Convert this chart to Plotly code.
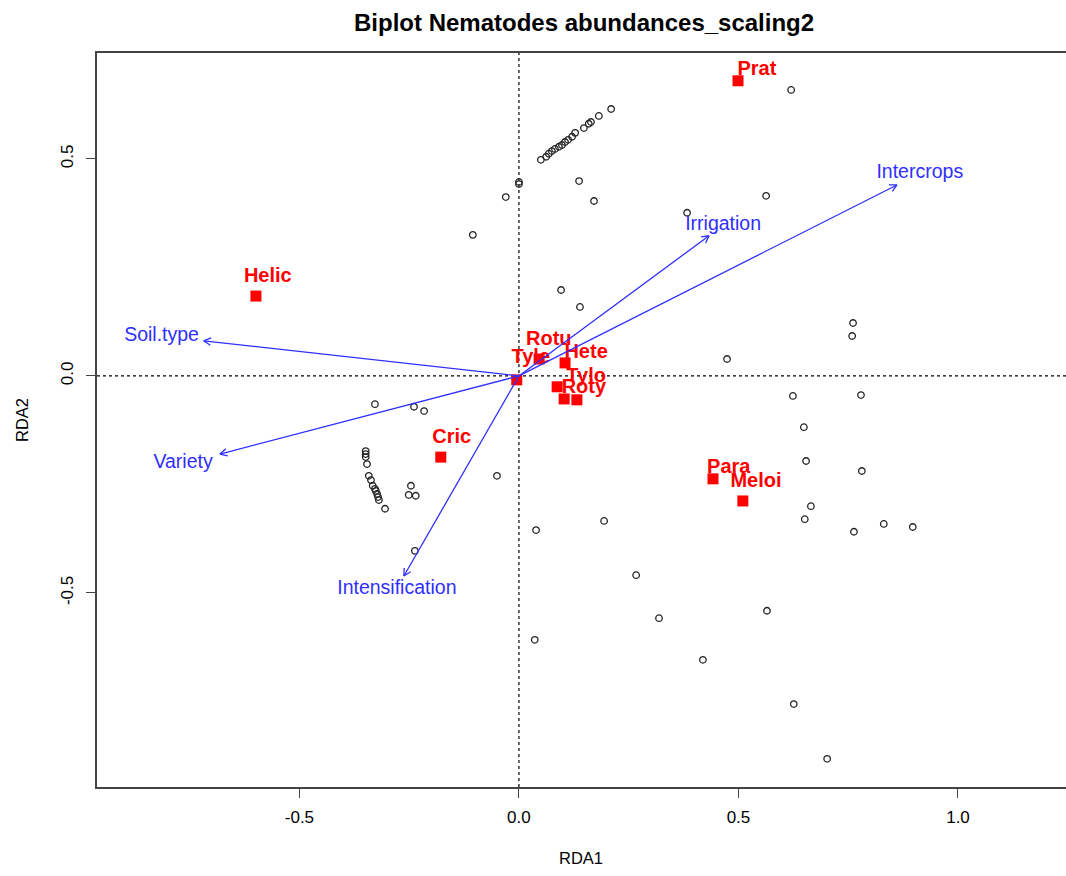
import numpy as np
import plotly.graph_objects as go

# ---------------- data ----------------
site_x = [0.210, 0.182, 0.164, 0.159, 0.148, 0.128, 0.121, 0.112, 0.105, 0.098,
          0.091, 0.082, 0.075, 0.068, 0.062, 0.050, 0.000, 0.000, -0.030, 0.137,
          0.171, -0.105, 0.383, 0.563, 0.620, 0.096, 0.139, 0.474, 0.761, 0.759,
          0.624, 0.779, 0.649, 0.654, 0.781, 0.665, 0.651, 0.763, 0.831, 0.897,
          0.194, -0.050, 0.039, 0.267, 0.319, 0.036, 0.419, 0.565, 0.626, 0.702,
          -0.328, -0.239, -0.216, -0.349, -0.349, -0.349, -0.346, -0.342, -0.337, -0.333,
          -0.328, -0.326, -0.323, -0.321, -0.319, -0.305, -0.246, -0.251, -0.235, -0.237]
site_y = [0.615, 0.599, 0.585, 0.581, 0.571, 0.560, 0.551, 0.544, 0.539, 0.532,
          0.528, 0.523, 0.518, 0.512, 0.505, 0.498, 0.447, 0.442, 0.412, 0.449,
          0.403, 0.325, 0.376, 0.415, 0.659, 0.198, 0.159, 0.039, 0.122, 0.092,
          -0.046, -0.044, -0.118, -0.196, -0.219, -0.300, -0.330, -0.359, -0.341, -0.348,
          -0.334, -0.230, -0.355, -0.459, -0.558, -0.608, -0.654, -0.541, -0.756, -0.882,
          -0.065, -0.071, -0.081, -0.173, -0.180, -0.187, -0.203, -0.230, -0.240, -0.253,
          -0.260, -0.265, -0.272, -0.279, -0.286, -0.306, -0.253, -0.274, -0.276, -0.403]

species_labels = ["Prat", "Helic", "Rotu", "Tyle", "Hete", "Tylo", "Roty", "", "Cric", "Para", "Meloi"]
species_x = [0.499, -0.599, 0.046, -0.005, 0.105, 0.087, 0.103, 0.132, -0.178, 0.442, 0.510]
species_y = [0.680, 0.184, 0.039, -0.009, 0.030, -0.025, -0.053, -0.055, -0.187, -0.237, -0.288]
species_lab_x = [0.542, -0.572, 0.068, 0.027, 0.153, 0.153, 0.148, 0.148, -0.153, 0.478, 0.540]
species_lab_y = [0.705, 0.228, 0.083, 0.041, 0.053, -0.002, -0.028, -0.028, -0.143, -0.212, -0.244]

env_labels = ["Soil.type", "Variety", "Intensification", "Irrigation", "Intercrops"]
env_x = [-0.718, -0.681, -0.262, 0.433, 0.861]
env_y = [0.081, -0.180, -0.461, 0.323, 0.440]
env_lab_x = [-0.814, -0.765, -0.278, 0.465, 0.913]
env_lab_y = [0.092, -0.200, -0.491, 0.348, 0.468]

x_ticks = [-0.5, 0.0, 0.5, 1.0]
x_tick_text = ["-0.5", "0.0", "0.5", "1.0"]
y_ticks = [-0.5, 0.0, 0.5]
y_tick_text = ["-0.5", "0.0", "0.5"]

# ---------------- layout geometry ----------------
W, H = 1066, 876
ML, MR, MT, MB = 97, 0, 53, 89
XR = [-0.961, 1.246]
YR = [-0.947, 0.744]
pw, ph = W - ML - MR, H - MT - MB
sx = pw / (XR[1] - XR[0])
sy = ph / (YR[1] - YR[0])

FONT = "Liberation Sans, Arial, sans-serif"
BLUE = "#2f2fff"
RED = "#ff0000"

fig = go.Figure()

# reference dotted lines
fig.add_shape(type="line", x0=0, x1=0, y0=YR[0], y1=YR[1], xref="x", yref="y",
              line=dict(color="black", width=1.2, dash="dot"), layer="below")
fig.add_shape(type="line", x0=XR[0], x1=XR[1], y0=0, y1=0, xref="x", yref="y",
              line=dict(color="black", width=1.2, dash="dot"), layer="below")

# sites
fig.add_trace(go.Scatter(x=site_x, y=site_y, mode="markers",
                         marker=dict(symbol="circle-open", size=6.5, color="#222",
                                     line=dict(width=1.3, color="#222")),
                         hoverinfo="skip"))

# species squares
fig.add_trace(go.Scatter(x=species_x, y=species_y, mode="markers",
                         marker=dict(symbol="square", size=11, color=RED),
                         hoverinfo="skip"))
# species labels
fig.add_trace(go.Scatter(x=species_lab_x, y=species_lab_y, mode="text",
                         text=species_labels, textposition="middle center",
                         textfont=dict(family=FONT, size=20, color=RED, weight="bold"),
                         hoverinfo="skip"))

# environmental arrows
ax_l, ay_l = [], []
head = 8.0
ang = np.deg2rad(28)
for ex, ey in zip(env_x, env_y):
    ax_l += [0, ex, None]
    ay_l += [0, ey, None]
    dx, dy = ex * sx, ey * sy
    L = np.hypot(dx, dy)
    ux, uy = -dx / L, -dy / L
    for a in (ang, -ang):
        rx = ux * np.cos(a) - uy * np.sin(a)
        ry = ux * np.sin(a) + uy * np.cos(a)
        ax_l += [ex + rx * head / sx, ex, None]
        ay_l += [ey + ry * head / sy, ey, None]
fig.add_trace(go.Scatter(x=ax_l, y=ay_l, mode="lines",
                         line=dict(color=BLUE, width=1.3), hoverinfo="skip"))
fig.add_trace(go.Scatter(x=env_lab_x, y=env_lab_y, mode="text", text=env_labels,
                         textposition="middle center",
                         textfont=dict(family=FONT, size=19.5, color=BLUE),
                         hoverinfo="skip"))

fig.update_layout(
    width=W, height=H,
    margin=dict(l=ML, r=MR, t=MT, b=MB),
    paper_bgcolor="white", plot_bgcolor="white",
    showlegend=False,
    font=dict(family=FONT, size=17, color="black"),
    xaxis=dict(range=XR, showgrid=False, zeroline=False,
               showline=True, mirror=True, linecolor="#444", linewidth=1.5,
               ticks="outside", ticklen=9, tickwidth=1.3, tickcolor="#444",
               tickvals=x_ticks, ticktext=x_tick_text, ticklabelstandoff=5,
               tickfont=dict(family=FONT, size=17, color="black")),
    yaxis=dict(range=YR, showgrid=False, zeroline=False,
               showline=True, mirror=False, linecolor="#444", linewidth=1.5,
               ticks="outside", ticklen=9, tickwidth=1.3, tickcolor="#444",
               tickvals=y_ticks, ticktext=y_tick_text, tickangle=-90, ticklabelstandoff=6,
               tickfont=dict(family=FONT, size=17, color="black")),
    annotations=[
        dict(text="<b>Biplot Nematodes abundances_scaling2</b>",
             x=(584 - ML) / pw, y=1 + (MT - 22) / ph,
             xref="paper", yref="paper", xanchor="center", yanchor="middle",
             showarrow=False, font=dict(family=FONT, size=24, color="black")),
        dict(text="RDA1", x=(581 - ML) / pw, y=-(858 - (H - MB)) / ph,
             xref="paper", yref="paper", xanchor="center", yanchor="middle",
             showarrow=False, font=dict(family=FONT, size=16.5, color="black")),
        dict(text="RDA2", x=-(ML - 22) / pw, y=0.5, xref="paper", yref="paper",
             xanchor="center", yanchor="middle",
             showarrow=False, textangle=-90, font=dict(family=FONT, size=16.5, color="black")),
    ],
)

fig.write_html("out.html", config={"displayModeBar": False},
               post_script="document.body.style.margin='0';document.body.style.overflow='hidden';")
